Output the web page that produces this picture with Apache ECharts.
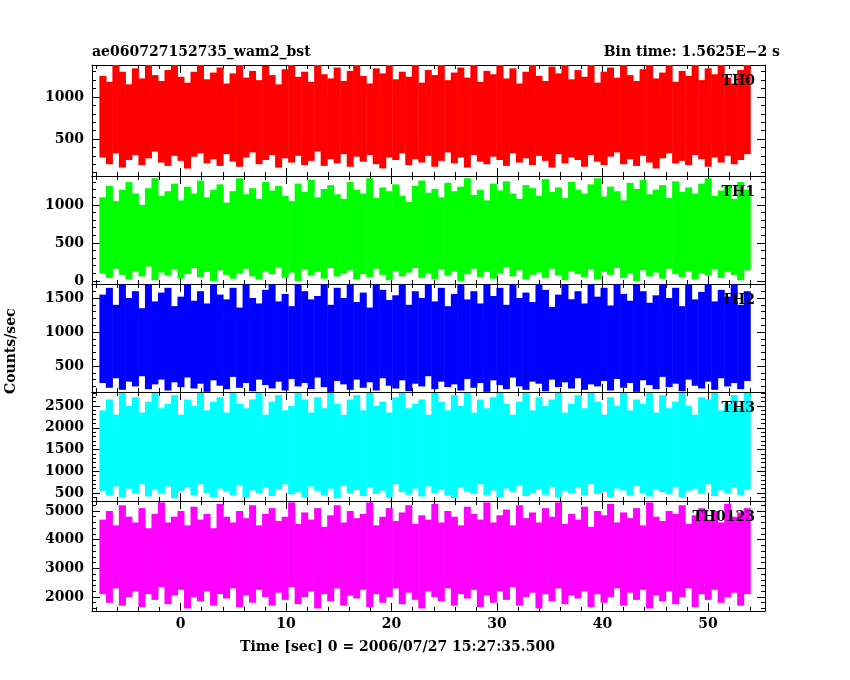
<!DOCTYPE html>
<html><head><meta charset="utf-8">
<script src="https://cdn.jsdelivr.net/npm/echarts@6/dist/echarts.min.js"></script>
<style>html,body{margin:0;background:#fff}#c{width:850px;height:680px}</style>
</head><body><div id="c"></div>
<script>
// time span covered by the bins (sec)
var tStart = -7.7, tEnd = 54.0;
var xMin = -8.4, xMax = 55.4;

var names = ['TH0', 'TH1', 'TH2', 'TH3', 'TH0123'];
var colors = ['#ff0000', '#00ff00', '#0000ff', '#00ffff', '#ff00ff'];
var yMins = [60, -40, 118, 316, 1512];
var yMaxs = [1380, 1380, 1706, 2822, 5349];
var yMajor = [[500, 1000], [0, 500, 1000], [500, 1000, 1500], [500, 1000, 1500, 2000, 2500], [2000, 3000, 4000, 5000]];
var yMinorStep = [100, 100, 100, 100, 200];
var xMajor = [0, 10, 20, 30, 40, 50];

// per-bin envelope (high / low counts)
var th0Hi = [1250,1180,1380,1300,1150,1340,1220,1380,1260,1190,1320,1380,1240,1170,1300,1380,1210,1290,1350,1160,1280,1380,1230,1310,1200,1370,1260,1150,1330,1380,1240,1300,1180,1380,1270,1220,1350,1190,1310,1380,1250,1160,1340,1280,1380,1210,1300,1240,1380,1170,1320,1260,1380,1200,1290,1350,1230,1380,1180,1310,1270,1380,1220,1340,1160,1300,1380,1250,1190,1360,1280,1380,1210,1320,1240,1380,1170,1300,1350,1230,1380,1260,1190,1330,1380,1220,1290,1380,1180,1310,1250,1380,1200,1340,1270,1380,1230,1160,1320,1380];
var th0Lo = [280,200,330,160,250,310,190,270,350,220,180,300,240,150,290,330,210,260,180,320,230,170,280,340,200,250,310,160,270,220,300,190,240,350,180,260,210,320,170,290,230,310,200,150,280,250,330,190,260,220,300,170,240,340,210,280,160,310,230,200,290,250,180,330,220,270,190,300,240,160,320,210,280,250,170,310,230,190,290,340,200,260,180,300,220,150,270,330,210,240,190,310,260,170,280,220,300,200,250,320];
var th1Hi = [1100,1250,1050,1200,1300,1150,1000,1220,1350,1120,1180,1280,1060,1240,1150,1320,1100,1200,1270,1030,1180,1350,1140,1220,1080,1300,1190,1250,1120,1050,1280,1170,1330,1100,1210,1260,1140,1080,1300,1200,1150,1350,1090,1230,1180,1270,1120,1040,1250,1320,1160,1210,1100,1290,1180,1240,1350,1130,1200,1060,1280,1190,1310,1150,1080,1260,1220,1120,1340,1170,1230,1090,1300,1200,1150,1270,1350,1110,1240,1180,1060,1290,1210,1330,1140,1200,1260,1090,1310,1170,1230,1150,1280,1350,1120,1190,1250,1080,1300,1200];
var th1Lo = [100,40,160,80,20,130,60,190,10,110,70,150,30,90,170,50,120,0,140,80,30,100,160,60,20,130,90,180,40,110,0,150,70,120,30,170,60,100,140,20,90,50,160,80,10,130,60,110,170,40,100,20,150,70,130,0,90,160,50,120,30,100,180,60,140,20,80,110,40,160,70,10,130,90,50,150,20,120,80,170,40,100,0,140,60,110,30,160,90,50,130,20,100,70,150,40,120,80,10,140];
var th2Hi = [1550,1650,1400,1700,1500,1600,1350,1700,1450,1580,1650,1380,1520,1700,1460,1600,1420,1700,1550,1480,1650,1360,1700,1500,1420,1620,1700,1450,1560,1380,1700,1600,1480,1530,1700,1400,1650,1500,1700,1440,1580,1360,1700,1620,1470,1540,1700,1400,1600,1500,1700,1450,1650,1380,1560,1700,1480,1600,1420,1700,1530,1650,1400,1700,1500,1580,1440,1700,1620,1370,1550,1700,1480,1600,1420,1700,1520,1650,1390,1700,1560,1460,1700,1600,1430,1540,1700,1500,1650,1380,1700,1480,1590,1700,1450,1620,1520,1700,1400,1600];
var th2Lo = [250,180,320,150,270,200,350,160,230,300,140,260,190,330,170,240,120,290,210,160,340,180,250,130,300,220,170,270,140,310,200,250,160,330,190,120,280,230,150,300,180,260,140,320,210,170,290,130,240,200,350,160,270,190,230,140,310,180,250,120,290,220,160,330,200,150,270,240,130,300,190,260,170,320,150,230,200,280,140,310,180,250,120,290,220,160,340,190,240,130,300,210,170,270,150,320,200,250,160,280];
var th3Hi = [2400,2650,2300,2800,2500,2700,2350,2600,2800,2450,2550,2750,2300,2650,2500,2800,2400,2600,2700,2350,2800,2550,2450,2650,2800,2300,2600,2750,2400,2500,2800,2650,2350,2700,2450,2800,2550,2300,2650,2750,2400,2800,2500,2600,2350,2700,2800,2450,2550,2650,2300,2800,2600,2400,2750,2500,2800,2350,2650,2450,2700,2800,2550,2300,2600,2800,2400,2700,2500,2650,2800,2350,2550,2750,2450,2800,2600,2300,2700,2500,2800,2400,2650,2550,2800,2350,2750,2450,2600,2800,2500,2300,2700,2650,2800,2400,2550,2750,2450,2800];
var th3Lo = [550,450,650,400,600,500,700,420,580,480,650,380,550,620,450,700,500,400,600,530,450,680,400,560,500,620,430,580,700,470,520,400,650,550,450,600,380,680,500,570,430,620,480,550,400,700,520,460,600,420,650,500,580,440,380,620,530,480,700,450,560,400,600,520,680,430,500,580,460,640,400,550,500,620,450,700,480,530,400,600,560,440,660,500,420,580,520,470,640,400,550,600,480,700,430,560,500,620,450,580];
var th0123Hi = [4700,5000,4500,5200,4800,4600,5100,4400,4900,5300,4600,4800,5000,4500,5150,4700,4900,4400,5250,4800,4600,5000,4750,5200,4500,4900,5100,4650,4800,5300,4550,4950,4700,5100,4450,4850,5200,4600,5000,4750,4900,5300,4500,4800,5100,4650,4950,5200,4550,4850,4700,5250,4600,5000,4800,4500,5150,4900,4700,5300,4600,4850,5050,4500,5200,4750,4950,4600,5100,4800,5300,4550,4900,4700,5150,4450,5000,4850,5250,4600,4950,4750,5100,4500,5300,4800,4650,5000,4900,5200,4550,4850,5100,4700,5000,4600,5250,4800,4950,5100];
var th0123Lo = [2100,1800,2300,1700,2000,2200,1650,2100,1900,2350,1750,2050,2250,1600,2000,1850,2200,1700,2100,1950,2300,1650,2050,1800,2250,2000,1700,2150,1900,2350,1750,2000,2200,1600,2100,1850,2300,1700,2050,1950,2250,1650,2100,1800,2000,2300,1750,2150,1900,1600,2200,2000,1850,2300,1700,2100,1950,2250,1650,2050,1800,2200,1900,2350,1700,2000,2150,1600,2100,1850,2300,1750,2050,1950,2200,1650,2100,1800,2000,2300,1700,2150,1900,2250,1600,2050,1850,2200,1750,2000,2300,1650,2100,1900,2250,1800,2000,2150,1700,2100];

var his = [th0Hi, th1Hi, th2Hi, th3Hi, th0123Hi];
var los = [th0Lo, th1Lo, th2Lo, th3Lo, th0123Lo];

var tops = [65, 176, 284, 392, 501];
var bottoms = [176, 284, 392, 501, 611];
var font = 'DejaVu Serif';
var tfont = 'bold 14px "' + font + '"';

var grids = [], xAxes = [], yAxes = [], series = [], graphics = [];

function range(a, b, s) { var r = []; for (var v = a; v <= b + 1e-9; v += s) r.push(v); return r; }

for (var i = 0; i < 5; i++) {
	grids.push({ left: 92, right: 85, top: tops[i], height: bottoms[i] - tops[i] });
	var xi = xAxes.length;
	var xMinor = range(-8, 54, 2);
	[['bottom', xMajor, 8, true], ['bottom', xMinor, 4, false], ['top', xMajor, 8, true], ['top', xMinor, 4, false]].forEach(function(d) {
		xAxes.push({
			type: 'value', gridIndex: i, position: d[0], min: xMin, max: xMax,
			axisLine: { show: d[3], onZero: false, lineStyle: { color: '#000', width: 1 } },
			axisTick: { inside: true, length: d[2], customValues: d[1], lineStyle: { color: '#000' } },
			axisLabel: { show: d[3] && d[0] == 'bottom' && i == 4, customValues: d[1], color: '#000', fontFamily: font, fontWeight: 'bold', fontSize: 14, margin: 6, formatter: function(v) { return String(v); } },
			splitLine: { show: false }
		});
	});
	var yi = yAxes.length;
	var yMinor = range(Math.ceil(yMins[i] / yMinorStep[i]) * yMinorStep[i], yMaxs[i], yMinorStep[i]);
	[['left', yMajor[i], 8, true], ['left', yMinor, 4, false], ['right', yMajor[i], 8, true], ['right', yMinor, 4, false]].forEach(function(d) {
		yAxes.push({
			type: 'value', gridIndex: i, position: d[0], min: yMins[i], max: yMaxs[i],
			axisLine: { show: d[3], onZero: false, lineStyle: { color: '#000', width: 1 } },
			axisTick: { inside: true, length: d[2], customValues: d[1], lineStyle: { color: '#000' } },
			axisLabel: { show: d[3] && d[0] == 'left', customValues: d[1], color: '#000', fontFamily: font, fontWeight: 'bold', fontSize: 14, margin: 8, formatter: function(v) { return String(v); } },
			splitLine: { show: false }
		});
	});
	var n = Math.min(his[i].length, los[i].length);
	var w = (tEnd - tStart) / n;
	var data = [];
	for (var k = 0; k < n; k++) data.push([tStart + (k + 0.5) * w, los[i][k], his[i][k]]);
	(function(col, w) {
		series.push({
			type: 'custom', xAxisIndex: xi, yAxisIndex: yi, clip: true, silent: true,
			data: data,
			renderItem: function(params, api) {
				var p1 = api.coord([api.value(0) - w / 2, api.value(2)]);
				var p2 = api.coord([api.value(0) + w / 2, api.value(1)]);
				return { type: 'rect', shape: { x: p1[0], y: p1[1], width: p2[0] - p1[0] + 0.5, height: p2[1] - p1[1] }, style: { fill: col } };
			}
		});
	})(colors[i], w);
	graphics.push({ type: 'text', right: 95, top: tops[i] + 9, z: 100, style: { text: names[i], font: tfont, fill: '#000' } });
}

graphics.push({ type: 'text', left: 92, top: 45, style: { text: 'ae060727152735_wam2_bst', font: tfont, fill: '#000' } });
graphics.push({ type: 'text', right: 70, top: 45, style: { text: 'Bin time: 1.5625E\u22122 s', font: tfont, fill: '#000' } });
graphics.push({ type: 'text', left: 240, top: 640, style: { text: 'Time [sec] 0 = 2006/07/27 15:27:35.500', font: tfont, fill: '#000' } });
graphics.push({ type: 'text', x: 4, y: 394, rotation: Math.PI / 2, style: { text: 'Counts/sec', font: tfont, fill: '#000' } });

var chart = echarts.init(document.getElementById('c'));
chart.setOption({
	animation: false,
	grid: grids, xAxis: xAxes, yAxis: yAxes, series: series, graphic: graphics
});
</script>
</body></html>
